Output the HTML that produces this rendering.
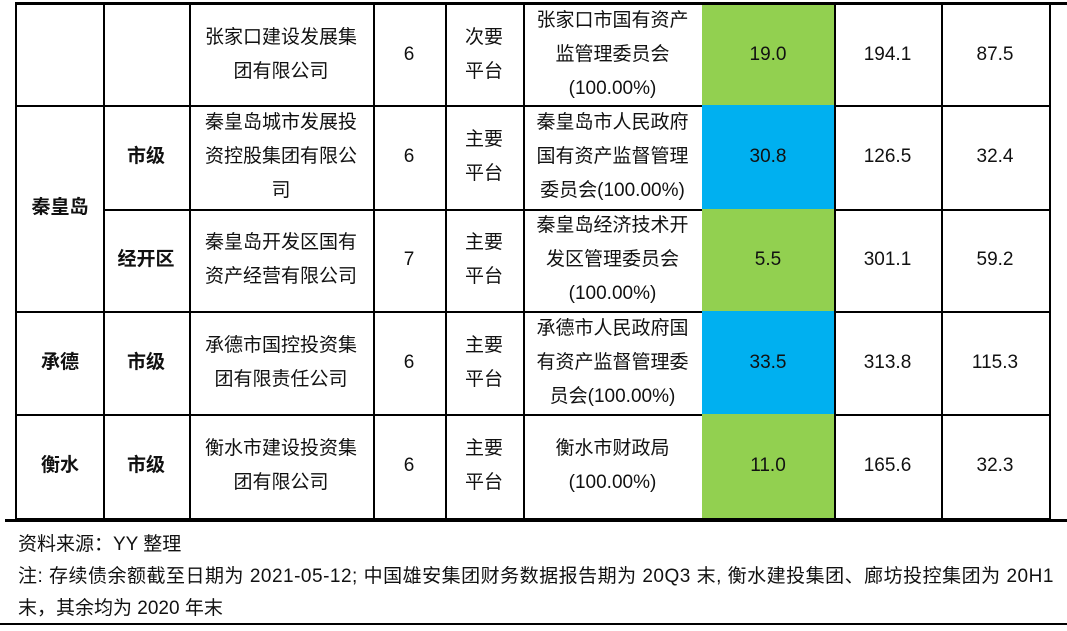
<!DOCTYPE html>
<html><head><meta charset="utf-8"><style>
body{margin:0;width:1067px;height:631px;background:#fff;position:relative;overflow:hidden;font-family:"Liberation Sans","Noto Sans CJK SC",sans-serif;color:#111;font-size:19px}
.c{position:absolute;box-sizing:border-box;border-right:2px solid #000;border-bottom:2px solid #000;display:flex;align-items:center;justify-content:center;text-align:center;line-height:34px}
.h{position:absolute;background:#000}
.b{font-weight:bold}
.n{position:absolute;left:18px;font-size:19px;white-space:nowrap}
</style></head><body>
<div class="h" style="left:15px;top:2px;width:1052px;height:3px"></div>
<div class="h" style="left:15px;top:2px;width:2px;height:518px"></div>
<div class="c" style="left:17px;top:5px;width:88px;height:102px"></div>
<div class="c" style="left:103px;top:5px;width:88px;height:102px"></div>
<div class="c" style="left:189px;top:5px;width:186px;height:102px">张家口建设发展集<br>团有限公司</div>
<div class="c" style="left:373px;top:5px;width:74px;height:102px">6</div>
<div class="c" style="left:445px;top:5px;width:80px;height:102px">次要<br>平台</div>
<div class="c" style="left:523px;top:5px;width:181px;height:102px">张家口市国有资产<br>监管理委员会<br>(100.00%)</div>
<div class="c" style="left:702px;top:5px;width:134px;height:102px;background:#92D050">19.0</div>
<div class="c" style="left:834px;top:5px;width:109px;height:102px">194.1</div>
<div class="c" style="left:941px;top:5px;width:110px;height:102px">87.5</div>
<div class="c b" style="left:17px;top:105px;width:88px;height:208px">秦皇岛</div>
<div class="c b" style="left:103px;top:105px;width:88px;height:106px">市级</div>
<div class="c" style="left:189px;top:105px;width:186px;height:106px">秦皇岛城市发展投<br>资控股集团有限公<br>司</div>
<div class="c" style="left:373px;top:105px;width:74px;height:106px">6</div>
<div class="c" style="left:445px;top:105px;width:80px;height:106px">主要<br>平台</div>
<div class="c" style="left:523px;top:105px;width:181px;height:106px">秦皇岛市人民政府<br>国有资产监督管理<br>委员会(100.00%)</div>
<div class="c" style="left:702px;top:105px;width:134px;height:106px;background:#00B0F0">30.8</div>
<div class="c" style="left:834px;top:105px;width:109px;height:106px">126.5</div>
<div class="c" style="left:941px;top:105px;width:110px;height:106px">32.4</div>
<div class="c b" style="left:103px;top:209px;width:88px;height:104px">经开区</div>
<div class="c" style="left:189px;top:209px;width:186px;height:104px">秦皇岛开发区国有<br>资产经营有限公司</div>
<div class="c" style="left:373px;top:209px;width:74px;height:104px">7</div>
<div class="c" style="left:445px;top:209px;width:80px;height:104px">主要<br>平台</div>
<div class="c" style="left:523px;top:209px;width:181px;height:104px">秦皇岛经济技术开<br>发区管理委员会<br>(100.00%)</div>
<div class="c" style="left:702px;top:209px;width:134px;height:104px;background:#92D050">5.5</div>
<div class="c" style="left:834px;top:209px;width:109px;height:104px">301.1</div>
<div class="c" style="left:941px;top:209px;width:110px;height:104px">59.2</div>
<div class="c b" style="left:17px;top:311px;width:88px;height:105px">承德</div>
<div class="c b" style="left:103px;top:311px;width:88px;height:105px">市级</div>
<div class="c" style="left:189px;top:311px;width:186px;height:105px">承德市国控投资集<br>团有限责任公司</div>
<div class="c" style="left:373px;top:311px;width:74px;height:105px">6</div>
<div class="c" style="left:445px;top:311px;width:80px;height:105px">主要<br>平台</div>
<div class="c" style="left:523px;top:311px;width:181px;height:105px">承德市人民政府国<br>有资产监督管理委<br>员会(100.00%)</div>
<div class="c" style="left:702px;top:311px;width:134px;height:105px;background:#00B0F0">33.5</div>
<div class="c" style="left:834px;top:311px;width:109px;height:105px">313.8</div>
<div class="c" style="left:941px;top:311px;width:110px;height:105px">115.3</div>
<div class="c b" style="left:17px;top:414px;width:88px;height:106px">衡水</div>
<div class="c b" style="left:103px;top:414px;width:88px;height:106px">市级</div>
<div class="c" style="left:189px;top:414px;width:186px;height:106px">衡水市建设投资集<br>团有限公司</div>
<div class="c" style="left:373px;top:414px;width:74px;height:106px">6</div>
<div class="c" style="left:445px;top:414px;width:80px;height:106px">主要<br>平台</div>
<div class="c" style="left:523px;top:414px;width:181px;height:106px">衡水市财政局<br>(100.00%)</div>
<div class="c" style="left:702px;top:414px;width:134px;height:106px;background:#92D050">11.0</div>
<div class="c" style="left:834px;top:414px;width:109px;height:106px">165.6</div>
<div class="c" style="left:941px;top:414px;width:110px;height:106px">32.3</div>
<div class="h" style="left:5px;top:519px;width:1062px;height:3px"></div>
<div class="n" style="top:529px">资料来源：YY 整理</div>
<div class="n" style="top:561px;letter-spacing:0.5px">注: 存续债余额截至日期为 2021-05-12; 中国雄安集团财务数据报告期为 20Q3 末, 衡水建投集团、廊坊投控集团为 20H1</div>
<div class="n" style="top:593px">末，其余均为 2020 年末</div>
<div class="h" style="left:0;top:623px;width:1067px;height:2px"></div>
</body></html>
